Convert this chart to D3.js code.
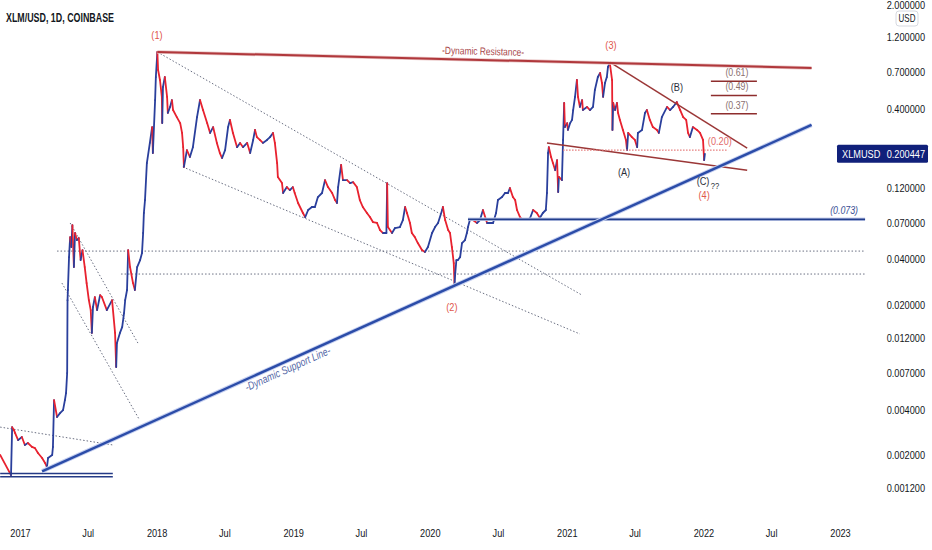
<!DOCTYPE html>
<html>
<head>
<meta charset="utf-8">
<script src="https://cdn.jsdelivr.net/npm/d3@7"></script>
<style>
  html, body { margin: 0; padding: 0; background: #fff; }
  svg { display: block; font-family: "Liberation Sans", Arial, sans-serif; }
</style>
</head>
<body>
<svg id="chart" width="932" height="550"></svg>
<script>
// XLM/USD daily closes (date, price)
const closes = [
  ["2016-11-09",0.00199],["2016-12-08",0.00146],["2016-12-11",0.00305],["2016-12-16",0.00291],
  ["2016-12-19",0.00278],["2016-12-27",0.0025],["2017-01-06",0.00262],["2017-01-14",0.00232],
  ["2017-01-22",0.00239],["2017-02-02",0.00225],["2017-02-10",0.00221],["2017-02-18",0.00205],
  ["2017-03-01",0.0019],["2017-03-09",0.00176],["2017-03-14",0.00165],["2017-03-17",0.0019],
  ["2017-03-28",0.00199],["2017-03-30",0.00225],["2017-04-02",0.00461],["2017-04-10",0.00356],
  ["2017-04-18",0.00378],["2017-04-26",0.00396],["2017-05-01",0.00461],["2017-05-04",0.00513],
  ["2017-05-07",0.00698],["2017-05-08",0.0213],["2017-05-09",0.0249],["2017-05-12",0.0412],
  ["2017-05-15",0.056],["2017-05-18",0.0481],["2017-05-21",0.0673],["2017-05-25",0.0354],
  ["2017-05-28",0.0596],["2017-06-02",0.0535],["2017-06-07",0.0552],["2017-06-12",0.0394],
  ["2017-06-17",0.0459],["2017-06-23",0.0354],["2017-06-28",0.0277],["2017-07-04",0.0213],
  ["2017-07-09",0.0183],["2017-07-12",0.0129],["2017-07-15",0.0192],["2017-07-20",0.0223],
  ["2017-07-26",0.0183],["2017-08-03",0.023],["2017-08-08",0.0223],["2017-08-21",0.0183],
  ["2017-09-04",0.0213],["2017-09-12",0.0129],["2017-09-15",0.00765],["2017-09-17",0.01105],
  ["2017-09-25",0.0129],["2017-10-01",0.0141],["2017-10-06",0.0175],["2017-10-09",0.0213],
  ["2017-10-14",0.0249],["2017-10-17",0.0459],["2017-10-22",0.0354],["2017-10-30",0.0277],
  ["2017-11-04",0.0249],["2017-11-10",0.0354],["2017-11-18",0.0394],["2017-11-23",0.0439],
  ["2017-11-26",0.0596],["2017-11-28",0.081],["2017-12-01",0.0988],["2017-12-06",0.174],
  ["2017-12-14",0.237],["2017-12-20",0.302],["2017-12-22",0.203],["2017-12-28",0.457],
  ["2017-12-30",0.65],["2018-01-03",0.954],["2018-01-05",0.724],["2018-01-10",0.621],
  ["2018-01-15",0.479],["2018-01-16",0.321],["2018-01-18",0.558],["2018-01-23",0.65],
  ["2018-01-29",0.479],["2018-01-31",0.375],["2018-02-06",0.411],["2018-02-11",0.457],
  ["2018-02-14",0.392],["2018-02-24",0.352],["2018-03-05",0.321],["2018-03-10",0.276],
  ["2018-03-13",0.222],["2018-03-15",0.164],["2018-03-23",0.212],["2018-03-31",0.191],
  ["2018-04-08",0.222],["2018-04-19",0.352],["2018-04-27",0.457],["2018-05-05",0.392],
  ["2018-05-16",0.321],["2018-05-24",0.276],["2018-06-01",0.302],["2018-06-11",0.237],
  ["2018-06-19",0.203],["2018-06-25",0.188],["2018-07-03",0.212],["2018-07-11",0.302],
  ["2018-07-16",0.337],["2018-07-24",0.276],["2018-08-04",0.222],["2018-08-12",0.237],
  ["2018-08-20",0.222],["2018-08-31",0.237],["2018-09-08",0.203],["2018-09-16",0.248],
  ["2018-09-21",0.289],["2018-09-26",0.259],["2018-10-04",0.248],["2018-10-12",0.237],
  ["2018-10-23",0.248],["2018-10-31",0.259],["2018-11-08",0.276],["2018-11-13",0.237],
  ["2018-11-19",0.174],["2018-11-21",0.1406],["2018-12-02",0.128],["2018-12-05",0.11],
  ["2018-12-15",0.1205],["2018-12-23",0.115],["2018-12-31",0.1205],["2019-01-05",0.11],
  ["2019-01-14",0.0944],["2019-01-27",0.081],["2019-02-02",0.0761],["2019-02-10",0.0848],
  ["2019-02-20",0.0888],["2019-02-28",0.0888],["2019-03-08",0.1034],["2019-03-19",0.11],
  ["2019-03-27",0.134],["2019-04-04",0.1205],["2019-04-15",0.11],["2019-04-23",0.0988],
  ["2019-04-28",0.0944],["2019-05-01",0.1205],["2019-05-09",0.169],["2019-05-14",0.134],
  ["2019-05-25",0.134],["2019-06-02",0.128],["2019-06-10",0.13],["2019-06-20",0.1205],
  ["2019-06-28",0.0988],["2019-07-06",0.0888],["2019-07-17",0.081],["2019-07-25",0.0761],
  ["2019-08-02",0.0705],["2019-08-13",0.0695],["2019-08-21",0.0624],["2019-08-29",0.0596],
  ["2019-09-07",0.0596],["2019-09-09",0.128],["2019-09-11",0.0653],["2019-09-22",0.0596],
  ["2019-09-30",0.0643],["2019-10-13",0.0653],["2019-10-21",0.0727],["2019-10-27",0.0888],
  ["2019-11-01",0.081],["2019-11-09",0.0695],["2019-11-14",0.0596],["2019-11-22",0.056],
  ["2019-11-30",0.0511],["2019-12-11",0.0459],["2019-12-19",0.0446],["2019-12-27",0.0481],
  ["2020-01-07",0.0596],["2020-01-15",0.0653],["2020-01-23",0.0695],["2020-02-03",0.0848],
  ["2020-02-05",0.0888],["2020-02-11",0.0727],["2020-02-19",0.0624],["2020-02-24",0.0596],
  ["2020-02-29",0.0481],["2020-03-05",0.0376],["2020-03-07",0.0269],["2020-03-09",0.0323],
  ["2020-03-12",0.0394],["2020-03-16",0.0394],["2020-03-22",0.0412],["2020-03-27",0.0511],
  ["2020-04-04",0.0535],["2020-04-09",0.0596],["2020-04-12",0.0653],["2020-04-17",0.0727],
  ["2020-04-25",0.0727],["2020-05-06",0.0695],["2020-05-14",0.0727],["2020-05-22",0.0848],
  ["2020-06-02",0.0695],["2020-06-10",0.0695],["2020-06-18",0.0695],["2020-06-26",0.081],
  ["2020-07-01",0.0988],["2020-07-12",0.1034],["2020-07-20",0.11],["2020-07-28",0.11],
  ["2020-08-02",0.1188],["2020-08-10",0.1034],["2020-08-16",0.0988],["2020-08-21",0.0848],
  ["2020-08-29",0.0761],["2020-09-06",0.0727],["2020-09-17",0.0727],["2020-09-25",0.075],
  ["2020-10-03",0.0848],["2020-10-13",0.081],["2020-10-21",0.075],["2020-10-29",0.081],
  ["2020-11-06",0.0848],["2020-11-09",0.11],["2020-11-12",0.203],["2020-11-14",0.222],
  ["2020-11-20",0.191],["2020-11-25",0.174],["2020-12-01",0.156],["2020-12-06",0.182],
  ["2020-12-09",0.1117],["2020-12-11",0.1406],["2020-12-19",0.134],["2020-12-22",0.248],
  ["2020-12-25",0.437],["2020-12-27",0.302],["2021-01-02",0.321],["2021-01-04",0.289],
  ["2021-01-10",0.321],["2021-01-15",0.337],["2021-01-18",0.392],["2021-01-23",0.479],
  ["2021-01-28",0.621],["2021-01-31",0.479],["2021-02-05",0.411],["2021-02-11",0.457],
  ["2021-02-13",0.392],["2021-02-24",0.411],["2021-03-04",0.392],["2021-03-12",0.411],
  ["2021-03-17",0.533],["2021-03-25",0.65],["2021-03-31",0.691],["2021-04-05",0.593],
  ["2021-04-08",0.479],["2021-04-13",0.593],["2021-04-18",0.65],["2021-04-21",0.758],
  ["2021-04-26",0.805],["2021-05-02",0.621],["2021-05-03",0.289],["2021-05-05",0.437],
  ["2021-05-10",0.392],["2021-05-15",0.437],["2021-05-18",0.375],["2021-05-23",0.337],
  ["2021-05-31",0.289],["2021-06-08",0.248],["2021-06-11",0.212],["2021-06-14",0.276],
  ["2021-06-24",0.259],["2021-07-02",0.248],["2021-07-08",0.222],["2021-07-10",0.276],
  ["2021-07-21",0.289],["2021-07-29",0.375],["2021-08-03",0.392],["2021-08-11",0.337],
  ["2021-08-19",0.302],["2021-08-30",0.289],["2021-09-04",0.276],["2021-09-12",0.352],
  ["2021-09-26",0.411],["2021-10-04",0.392],["2021-10-12",0.411],["2021-10-22",0.443],
  ["2021-10-31",0.392],["2021-11-08",0.352],["2021-11-16",0.337],["2021-11-21",0.276],
  ["2021-11-26",0.259],["2021-12-04",0.302],["2021-12-15",0.289],["2021-12-23",0.276],
  ["2021-12-31",0.248],["2022-01-03",0.182],["2022-01-05",0.200447]
];

const priceTicks = [2, 1.2, 0.7, 0.4, 0.12, 0.07, 0.04, 0.02, 0.012, 0.007, 0.004, 0.002, 0.0012];
const timeTicks = ["2017-01-01","2017-07-01","2018-01-01","2018-07-01","2019-01-01","2019-07-01",
  "2020-01-01","2020-07-01","2021-01-01","2021-07-01","2022-01-01","2022-07-01","2023-01-01"];

// drawings (date, price)
const resistance = [["2018-01-03", 0.954], ["2022-10-17", 0.746]];
const support = [["2017-03-01", 0.00155], ["2022-10-17", 0.312]];
const channelLines = [
  [["2018-01-03", 0.954], ["2021-02-11", 0.023]],
  [["2018-03-12", 0.164], ["2021-02-05", 0.0127]],
  [["2017-05-15", 0.0695], ["2017-11-12", 0.01105]],
  [["2017-04-23", 0.0277], ["2017-11-15", 0.00345]],
  [["2016-11-09", 0.00305], ["2017-09-06", 0.00232]]
];
const dottedLevels = [[0.0452, "2017-04-10"], [0.0318, "2017-09-28"]];
const bottomLevels = [0.0015, 0.001425];
const bottomSpan = ["2016-11-09", "2017-09-06"];
const supportLevel = [0.0735, "2020-04-12"];
const wedgeLines = [
  [["2021-04-26", 0.818], ["2022-04-28", 0.219]],
  [["2020-11-09", 0.237], ["2022-04-28", 0.156]]
];
const wedgeBase = [0.212, "2020-12-22", "2022-03-08"];
const fibLevels = [0.61, 0.49, 0.37];
const fibSpan = ["2022-01-21", "2022-05-24"];
const waveLabels = [["(1)", "2018-01-02", 1.237], ["(2)", "2020-02-29", 0.0192],
  ["(3)", "2021-04-29", 1.062], ["(4)", "2022-01-03", 0.1067]];
const letterLabels = [["(A)", "2021-06-03", 0.152], ["(B)", "2021-10-22", 0.558],
  ["(C)", "2021-12-31", 0.132]];
const noteLabels = [["??", "2022-02-01", 0.1225], ["(0.20)", "2022-02-14", 0.244]];
const levelEnd = "2023-03-09";

const parse = d3.utcParse('%Y-%m-%d');
const plotW = 866, plotH = 518, squeeze = 0.8;

const x = d3.scaleUtc().domain([parse('2017-01-01'), parse('2023-01-01')]).range([20, 840]);
const y = d3.scaleLog().domain([1.2, 0.0012]).range([37, 488]);
const P = d => [x(parse(d[0])), y(d[1])];

const svg = d3.select('#chart');
svg.append('defs').append('clipPath').attr('id', 'plot')
  .append('rect').attr('width', plotW).attr('height', plotH);
const plot = svg.append('g').attr('clip-path', 'url(#plot)');

function drawLine(g, pair, stroke, width, dash) {
  const [a, b] = pair.map(P);
  return g.append('line')
    .attr('x1', a[0]).attr('y1', a[1]).attr('x2', b[0]).attr('y2', b[1])
    .attr('stroke', stroke).attr('stroke-width', width)
    .attr('stroke-dasharray', dash || null);
}

function text(g, px, py, str, size, fill, extra = {}) {
  return g.append('text')
    .attr('transform', `translate(${px},${py}) rotate(${extra.angle || 0}) scale(${squeeze},1)`)
    .attr('text-anchor', extra.anchor || 'middle')
    .attr('dominant-baseline', 'central')
    .attr('font-size', size).attr('fill', fill)
    .style('font-style', extra.italic ? 'italic' : null)
    .style('font-weight', extra.bold ? 'bold' : null)
    .text(str);
}

// dotted horizontal levels
dottedLevels.forEach(([v, from]) =>
  drawLine(plot, [[from, v], [levelEnd, v]], '#6a6f82', 1, '1.5,2'));

// dotted channel lines
channelLines.forEach(pair => drawLine(plot, pair, '#6a6f82', 1, '1.5,2'));

// price series: daily moves, blue up / red down
const series = closes.map(d => ({ date: parse(d[0]), v: d[1] }));
plot.append('g').selectAll('line')
  .data(d3.pairs(series))
  .join('line')
  .attr('x1', d => x(d[0].date)).attr('y1', d => y(d[0].v))
  .attr('x2', d => x(d[1].date)).attr('y2', d => y(d[1].v))
  .attr('stroke', d => d[1].v >= d[0].v ? '#2a3f9c' : '#e8222f')
  .attr('stroke-width', 1.8)
  .attr('stroke-linecap', 'round');

// bottom double line
bottomLevels.forEach(v => drawLine(plot, [[bottomSpan[0], v], [bottomSpan[1], v]], '#243a86', 1.4));

// (0.073) support level
drawLine(plot, [[supportLevel[1], supportLevel[0]], [levelEnd, supportLevel[0]]], '#c9d2ee', 3.5);
drawLine(plot, [[supportLevel[1], supportLevel[0]], [levelEnd, supportLevel[0]]], '#223d8c', 1.6);
text(plot, x(parse(levelEnd)) - 21, y(supportLevel[0]) - 9, '(0.073)', 11, '#3a4f95', { italic: true });

// wedge lines
wedgeLines.forEach(pair => drawLine(plot, pair, '#9b3737', 1.5));
drawLine(plot, [[wedgeBase[1], wedgeBase[0]], [wedgeBase[2], wedgeBase[0]]], '#e57b7b', 1.2, '1.5,1.5');

// fib levels
fibLevels.forEach(v => {
  drawLine(plot, [[fibSpan[0], v], [fibSpan[1], v]], '#8e2d2d', 1.5);
  const mx = (x(parse(fibSpan[0])) + x(parse(fibSpan[1]))) / 2 + 3;
  text(plot, mx, y(v) - 9, `(${v.toFixed(2)})`, 11, '#8a7070');
});

// dynamic resistance
drawLine(plot, resistance, '#e8c3c3', 3.5);
drawLine(plot, resistance, '#b0383c', 2);
{
  const [a, b] = resistance.map(P);
  const t = 0.498;
  const ang = Math.atan2(b[1] - a[1], b[0] - a[0]) * 180 / Math.PI;
  text(plot, a[0] + (b[0] - a[0]) * t, a[1] + (b[1] - a[1]) * t - 9,
    '-Dynamic Resistance-', 10.5, '#a8474a', { angle: ang });
}

// dynamic support
drawLine(plot, support, '#c6d0f0', 4.5);
drawLine(plot, support, '#2b4ca8', 2.4);
{
  const [a, b] = support.map(P);
  const t = 0.325;
  const ang = Math.atan2(b[1] - a[1], b[0] - a[0]);
  const off = 11;
  text(plot, a[0] + (b[0] - a[0]) * t + Math.sin(ang) * off,
    a[1] + (b[1] - a[1]) * t + Math.cos(ang) * off,
    '-Dynamic Support Line-', 11, '#5266a6', { angle: ang * 180 / Math.PI, italic: true });
}

// wave labels
waveLabels.forEach(([s, d, v]) => text(plot, x(parse(d)), y(v), s, 11.5, '#e0564b'));
letterLabels.forEach(([s, d, v]) => text(plot, x(parse(d)), y(v), s, 11.5, '#2a2e39'));
text(plot, x(parse(noteLabels[0][1])), y(noteLabels[0][2]), noteLabels[0][0], 9.5, '#2a2e39');
text(plot, x(parse(noteLabels[1][1])), y(noteLabels[1][2]), noteLabels[1][0], 11.5, '#e26a6a');

// price axis
const yAxis = svg.append('g')
  .attr('transform', 'translate(925,0)')
  .call(d3.axisLeft(y).tickValues(priceTicks).tickFormat(d => d.toFixed(6)).tickSize(0).tickPadding(0));
yAxis.select('.domain').remove();
yAxis.selectAll('text')
  .attr('font-size', 11.5).attr('fill', '#131722')
  .attr('font-family', '"Liberation Sans", Arial, sans-serif')
  .attr('transform', `scale(${squeeze},1)`);
// keep the top label inside the frame
yAxis.selectAll('.tick')
  .filter(d => y(d) < 6)
  .attr('transform', 'translate(0,5)');

// time axis
const xAxis = svg.append('g')
  .attr('transform', 'translate(0,529)')
  .call(d3.axisBottom(x).tickValues(timeTicks.map(parse))
    .tickFormat(d => d.getUTCMonth() === 0 ? d3.utcFormat('%Y')(d) : d3.utcFormat('%b')(d))
    .tickSize(0).tickPadding(0));
xAxis.select('.domain').remove();
xAxis.selectAll('text')
  .attr('font-size', 11.5).attr('fill', '#131722')
  .attr('font-family', '"Liberation Sans", Arial, sans-serif')
  .attr('transform', `scale(${squeeze},1)`);

// USD unit badge
svg.append('rect').attr('x', 896).attr('y', 11).attr('width', 22).attr('height', 15)
  .attr('rx', 3).attr('fill', '#fff').attr('stroke', '#d6d9e0');
text(svg, 907, 18.5, 'USD', 10, '#131722');

// last price tag
const last = series[series.length - 1];
const ly = y(last.v);
svg.append('rect').attr('x', 837).attr('y', ly - 9).attr('width', 91).attr('height', 18)
  .attr('rx', 1.5).attr('fill', '#10207a');
text(svg, 842, ly, 'XLMUSD', 11.5, '#fff', { anchor: 'start' });
text(svg, 925, ly, last.v.toFixed(6), 11.5, '#fff', { anchor: 'end' });

// title
svg.append('text').attr('x', 6).attr('y', 22)
  .attr('font-size', 13).attr('font-weight', 'bold').attr('fill', '#131722')
  .attr('textLength', 108).attr('lengthAdjust', 'spacingAndGlyphs')
  .text('XLM/USD, 1D, COINBASE');
</script>
</body>
</html>
